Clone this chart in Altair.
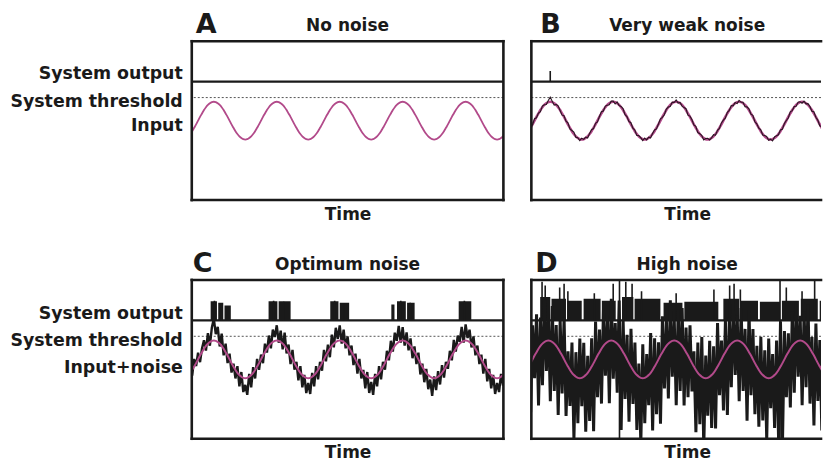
import altair as alt
import pandas as pd

FONT = "DejaVu Sans"
INK = "#1a1a1a"
PINK = "#b24a8a"
W, H = 312, 159          # left column panels
W_R = 290                # right column panels (cut off at the page edge, as in the figure)
X_DOM = [0, 4.95]
X_DOM_R = [0, 4.95 * W_R / W]
Y_DOM = [-4.2, 4.2]
THRESHOLD = 1.22
OUTPUT_LEVEL = 2.06

# one period of the input sine, 32 samples
sine_cycle = [0.0, 0.20, 0.38, 0.56, 0.71, 0.83, 0.92, 0.98, 1.0, 0.98, 0.92, 0.83,
              0.71, 0.56, 0.38, 0.20, 0.0, -0.20, -0.38, -0.56, -0.71, -0.83, -0.92,
              -0.98, -1.0, -0.98, -0.92, -0.83, -0.71, -0.56, -0.38, -0.20]
input_signal = sine_cycle[28:] + sine_cycle * 5   # 164 samples
samples_per_period = 32

# phase (time of upward zero crossing) of each panel's input
phase_a, phase_b, phase_c, phase_d = 0.10, 0.05, 0.10, 0.02

noise_b = [0.04, -0.06, 0.08, -0.03, 0.10, -0.05, 0.02, -0.08, 0.06, 0.01, -0.07, 0.09, 0.24, 0.05, -0.10, 0.03, 0.07, -0.02, -0.09, 0.06,
           -0.03, 0.08, -0.06, 0.04, 0.11, -0.05, 0.02, -0.08, 0.07, -0.01, 0.05, -0.09, 0.03, 0.08, -0.04, 0.06, -0.07, 0.02, 0.09, -0.05,
           0.06, -0.02, -0.08, 0.05, 0.03, -0.10, 0.07, -0.03, 0.04, 0.08, -0.06, 0.01, -0.05, 0.09, -0.02, 0.06, -0.08, 0.04, 0.02, -0.07,
           0.08, -0.04, 0.05, -0.09, 0.03, 0.07, -0.06, 0.02, 0.10, -0.03, -0.07, 0.05, 0.01, -0.08, 0.06, -0.02, 0.09, -0.05, 0.04, -0.06,
           -0.02, 0.07, -0.09, 0.04, 0.06, -0.03, 0.08, -0.07, 0.02, 0.05, -0.10, 0.03, 0.07, -0.04, 0.01, 0.09, -0.06, 0.05, -0.03, 0.08,
           0.03, -0.07, 0.06, -0.02, 0.09, -0.05, 0.04, -0.08, 0.07, -0.01, 0.05, -0.09, 0.02, 0.06, -0.04, 0.08, -0.06, 0.03, -0.02, 0.07,
           -0.05, 0.04, 0.08, -0.06, 0.02, -0.09, 0.06, 0.03, -0.04, 0.07, -0.08, 0.05, 0.01, -0.06, 0.09, -0.03, 0.04, -0.07, 0.06, 0.02,
           -0.08, 0.05, -0.03, 0.07, 0.04, -0.06, 0.09, -0.02, 0.03, -0.07, 0.06, -0.04, 0.08, 0.01, -0.05, 0.07, -0.09, 0.04, 0.02, -0.06,
           0.05, -0.03, 0.07, -0.04]

noise_c = [0.25, -0.30, 0.40, -0.15, 0.35, -0.35, 0.20, 0.45, -0.25, 0.55, -0.20, 0.70, 1.15, 0.35, 0.80, -0.15, 0.65, -0.35, 0.45, -0.40,
           0.30, -0.50, 0.15, -0.45, 0.35, -0.60, 0.25, -0.75, -0.35, -0.90, 0.15, -0.65, 0.30, -0.45, 0.40, -0.35, 0.25, -0.40, 0.45, -0.20,
           0.55, -0.25, 0.65, 0.20, 0.80, -0.10, 0.60, -0.30, 0.70, -0.25, 0.40, -0.45, 0.50, -0.35, 0.25, -0.55, 0.35, -0.65, 0.10, -0.80,
           -0.25, -0.85, 0.20, -0.60, 0.35, -0.50, 0.25, -0.40, 0.50, -0.30, 0.40, -0.45, 0.60, -0.20, 0.75, 0.10, 0.80, -0.15, 0.65, -0.25,
           0.50, -0.35, 0.35, -0.50, 0.30, -0.55, 0.40, -0.45, 0.15, -0.70, 0.25, -0.80, -0.20, -0.90, 0.15, -0.60, 0.35, -0.50, 0.25, -0.35,
           0.45, -0.25, 0.60, -0.15, 0.70, 0.15, 0.85, -0.10, 0.70, -0.25, 0.50, -0.35, 0.40, -0.50, 0.30, -0.45, 0.35, -0.60, 0.15, -0.65,
           0.20, -0.75, -0.15, -0.95, 0.10, -0.65, 0.30, -0.50, 0.40, -0.40, 0.25, -0.30, 0.45, -0.25, 0.65, -0.15, 0.55, 0.10, 0.80, -0.10,
           0.85, 0.15, 0.65, -0.20, 0.50, -0.35, 0.35, -0.45, 0.25, -0.55, 0.40, -0.60, 0.20, -0.70, 0.10, -0.85, -0.25, -0.75, 0.15, -0.55,
           0.30, -0.40, 0.35, -0.25]

noise_d = [0.5, -1.8, 1.2, -2.6, 1.8, -1.2, 2.0, -3.0, 1.5, -2.2, 2.3, -1.6, 1.4, -3.2, 1.9, -2.5, 1.1, -3.5, 1.7, -2.0,
           2.2, -2.8, 0.8, -1.9, 1.6, -3.4, 1.3, -2.4, 2.1, -1.5, 1.8, -3.0, 0.9, -2.7, 1.5, -3.6, 2.0, -2.2, 1.2, -2.9,
           1.9, -1.7, 1.4, -3.3, 2.2, -2.0, 1.0, -2.6, 2.4, -4.3, 1.7, -2.3, 1.3, -3.1, 2.0, -1.8, 1.6, -2.9, 0.7, -3.5,
           1.8, -2.4, 1.2, -1.6, 2.1, -3.2, 1.5, -2.7, 0.9, -3.6, 1.9, -2.1, 1.4, -2.9, 2.2, -1.9, 1.1, -3.4, 1.7, -2.5,
           2.0, -3.0, 1.3, -2.2, 1.8, -1.5, 0.8, -3.3, 1.6, -2.6, 2.1, -3.7, 1.2, -2.0, 1.9, -2.8, 1.4, -3.1, 2.3, -1.7,
           1.0, -2.9, 1.7, -3.5, 1.5, -2.3, 2.0, -1.8, 1.3, -3.2, 1.8, -2.5, 0.9, -3.8, 2.2, -2.1, 1.6, -2.7, 1.1, -3.0,
           1.9, -2.4, 1.4, -3.3, 2.1, -1.6, 1.2, -2.8, 1.7, -3.6, 2.4, -4.3, 1.5, -2.2, 1.0, -3.1, 1.8, -2.6, 2.0, -1.9,
           1.3, -3.4, 1.6, -2.3, 2.2, -2.9, 0.8, -3.7, 1.9, -2.0, 1.4, -3.2, 2.1, -2.5, 1.2, -3.0, 1.7, -1.8, 2.0, -3.5,
           1.5, -2.4, 1.8, -2.9]

# system output bursts: start time, end time, top level
out_a = {"t0": [], "t1": [], "top": []}
spikes_a = {"t": [], "lo": [], "hi": []}

out_b = {"t0": [], "t1": [], "top": []}
spikes_b = {"t": [0.30], "lo": [OUTPUT_LEVEL], "hi": [2.62]}

out_c = {"t0": [0.30, 0.42, 0.52, 1.22, 1.38, 2.20, 2.35, 3.17, 3.26, 3.42, 4.24],
         "t1": [0.40, 0.50, 0.62, 1.36, 1.57, 2.33, 2.50, 3.22, 3.40, 3.54, 4.44],
         "top": [3.07, 3.00, 2.85, 3.07, 3.07, 3.07, 3.00, 2.90, 3.07, 3.00, 3.07]}
spikes_c = {"t": [0.36, 0.47, 1.30, 1.46, 2.27, 2.42, 3.32, 3.47, 4.33],
            "lo": [OUTPUT_LEVEL] * 9,
            "hi": [3.1, 2.95, 3.1, 3.05, 3.1, 2.95, 3.1, 3.0, 3.1]}

out_d = {"t0": [0.14, 0.32, 0.57, 0.83, 1.12, 1.44, 1.64, 2.10, 2.43, 3.05, 3.33, 3.63, 3.98, 4.28, 4.58],
         "t1": [0.30, 0.55, 0.80, 1.10, 1.34, 1.62, 2.05, 2.40, 2.97, 3.30, 3.60, 3.95, 4.25, 4.55, 4.95],
         "top": [3.3, 3.2, 3.1, 3.2, 3.1, 3.3, 3.2, 3.0, 3.05, 3.2, 3.1, 3.05, 3.1, 3.2, 3.1]}
spikes_d = {"t": [0.17, 0.22, 0.45, 0.52, 0.58, 1.00, 1.30, 1.40, 1.50, 1.60, 1.75, 2.30, 2.90, 3.15, 3.22, 3.32, 3.95, 4.05, 4.30, 4.50],
            "lo": [2.06, 2.06, 2.06, 2.06, 2.06, 2.06, 2.06, -4.2, 2.06, 2.06, 2.06, 2.06, 2.06, 2.06, 2.06, 2.06, -4.2, 2.06, 2.06, 2.06],
            "hi": [4.1, 3.9, 3.8, 4.0, 3.6, 3.5, 4.0, 4.2, 4.1, 4.0, 3.6, 3.5, 3.7, 3.9, 4.0, 3.7, 4.2, 3.8, 3.6, 4.2]}

labels_a = {"label": ["System output", "System threshold", "Input"], "y": [2.45, 1.0, -0.3]}
labels_c = {"label": ["System output", "System threshold", "Input+noise"], "y": [2.4, 0.98, -0.45]}


def panel(letter, letter_x, title, phase, noise, out, spikes, labels, noise_width, width, xdom, right_border):
    xscale = alt.Scale(domain=xdom, nice=False, zero=False)
    yscale = alt.Scale(domain=Y_DOM, nice=False, zero=False)
    xaxis = alt.Axis(title="Time", labels=False, ticks=False, domain=False, grid=False,
                     titleFont=FONT, titleFontSize=17, titleFontWeight="bold", titleColor=INK,
                     titlePadding=6, titleX=W / 2, titleAlign="center")

    def X(field):
        return alt.X(field, type="quantitative", scale=xscale, axis=xaxis)

    def Y(field):
        return alt.Y(field, type="quantitative", scale=yscale, axis=None)

    times = [phase - 4 / samples_per_period + k / samples_per_period for k in range(len(input_signal))]
    sig = pd.DataFrame({"t": times, "input": input_signal})
    layers = []
    lines = pd.DataFrame({"y": [THRESHOLD, OUTPUT_LEVEL], "kind": ["threshold", "output"]})
    layers.append(alt.Chart(lines[lines.kind == "threshold"]).mark_rule(
        color="#555", strokeWidth=1, strokeDash=[2, 2]).encode(y=Y("y")))
    layers.append(alt.Chart(lines[lines.kind == "output"]).mark_rule(
        color=INK, strokeWidth=2.2).encode(y=Y("y")))
    if out["t0"]:
        od = pd.DataFrame(out)
        od["base"] = OUTPUT_LEVEL
        layers.append(alt.Chart(od).mark_rect(color=INK, clip=True).encode(
            x=X("t0"), x2="t1", y=Y("top"), y2="base"))
    if spikes["t"]:
        layers.append(alt.Chart(pd.DataFrame(spikes)).mark_rule(color=INK, strokeWidth=1.6, clip=True).encode(
            x=X("t"), y=Y("lo"), y2="hi"))
    if noise is not None:
        nd = pd.DataFrame({"t": times[:len(noise)], "input": input_signal[:len(noise)], "noise": noise[:len(times)]})
        nd["value"] = nd["input"] + nd["noise"]
        if noise_width < 1.3:
            layers.append(alt.Chart(sig).mark_line(color=PINK, strokeWidth=2.6, clip=True, interpolate="monotone").encode(
                x=X("t"), y=Y("input")))
            layers.append(alt.Chart(nd).mark_line(color="#2a1522", strokeWidth=noise_width, clip=True).encode(
                x=X("t"), y=Y("value")))
        else:
            layers.append(alt.Chart(nd).mark_line(color=INK, strokeWidth=noise_width, clip=True,
                                                  strokeJoin="miter").encode(
                x=X("t"), y=Y("value")))
            layers.append(alt.Chart(sig).mark_line(color=PINK, strokeWidth=2.0, clip=True, interpolate="monotone").encode(
                x=X("t"), y=Y("input")))
    else:
        layers.append(alt.Chart(sig).mark_line(color=PINK, strokeWidth=1.8, clip=True, interpolate="monotone").encode(
            x=X("t"), y=Y("input")))

    # frame of the panel
    one = pd.DataFrame({"k": [0]})
    frame_style = dict(color=INK, strokeWidth=2.6, strokeCap="square")
    layers.append(alt.Chart(one).mark_rule(**frame_style).encode(
        x=alt.value(0), x2=alt.value(width), y=alt.value(0)))
    layers.append(alt.Chart(one).mark_rule(**frame_style).encode(
        x=alt.value(0), x2=alt.value(width), y=alt.value(H)))
    layers.append(alt.Chart(one).mark_rule(**frame_style).encode(
        x=alt.value(0), y=alt.value(0), y2=alt.value(H)))
    if right_border:
        layers.append(alt.Chart(one).mark_rule(**frame_style).encode(
            x=alt.value(width), y=alt.value(0), y2=alt.value(H)))

    head = pd.DataFrame({"letter": [letter], "title": [title]})
    layers.append(alt.Chart(head).mark_text(font=FONT, fontSize=27, fontWeight="bold", color=INK,
                                            align="left", baseline="alphabetic").encode(
        x=alt.value(letter_x), y=alt.value(-8), text="letter:N"))
    layers.append(alt.Chart(head).mark_text(font=FONT, fontSize=17, fontWeight="bold", color=INK,
                                            align="center", baseline="alphabetic").encode(
        x=alt.value(W / 2), y=alt.value(-10), text="title:N"))
    if labels is not None:
        layers.append(alt.Chart(pd.DataFrame(labels)).mark_text(font=FONT, fontSize=17.4, fontWeight="bold", color=INK,
                                                                align="right", baseline="middle").encode(
            x=alt.value(-9), y=Y("y"), text="label:N"))
    return alt.layer(*layers).properties(width=width, height=H)


pa = panel("A", 4, "No noise", phase_a, None, out_a, spikes_a, labels_a, 0, W, X_DOM, True)
pb = panel("B", 9, "Very weak noise", phase_b, noise_b, out_b, spikes_b, None, 1.1, W_R, X_DOM_R, False)
pc = panel("C", 1, "Optimum noise", phase_c, noise_c, out_c, spikes_c, labels_c, 2.4, W, X_DOM, True)
pd_ = panel("D", 4, "High noise", phase_d, noise_d, out_d, spikes_d, None, 3.0, W_R, X_DOM_R, False)

chart = alt.vconcat(
    alt.hconcat(pa, pb, spacing=24),
    alt.hconcat(pc, pd_, spacing=24),
    spacing=28,
).properties(padding={"left": 2, "top": 3, "right": 0, "bottom": 0}).configure(
    background="white"
).configure_view(
    strokeWidth=0
)

chart.save("out.html", embed_options={"renderer": "svg", "actions": False})
